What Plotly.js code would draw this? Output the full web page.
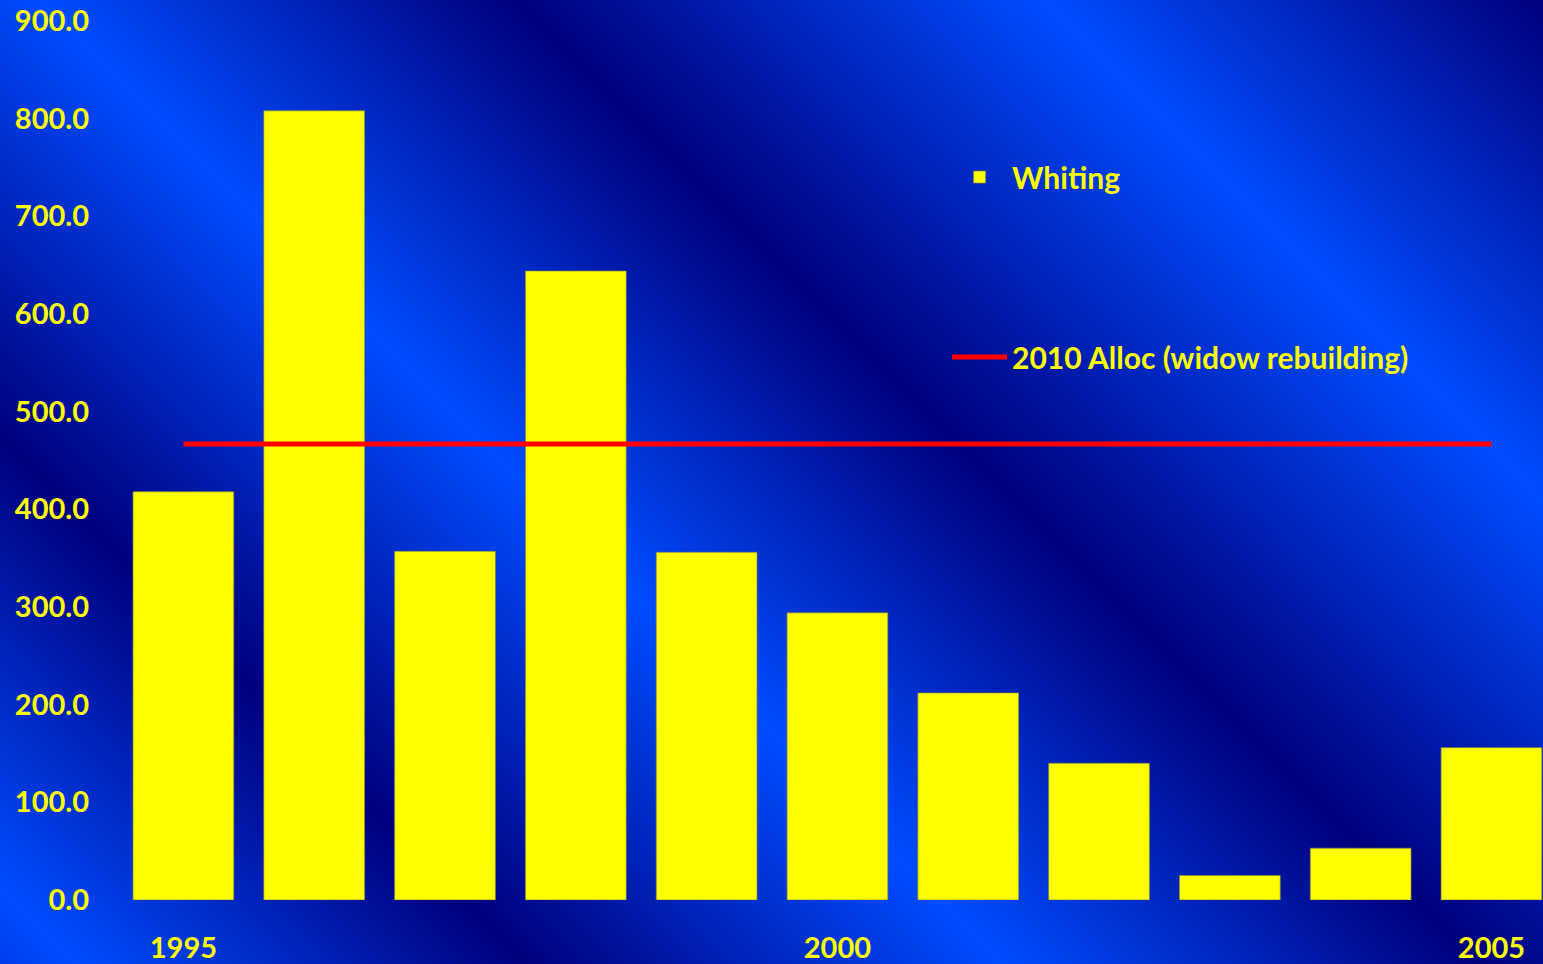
<!DOCTYPE html>
<html>
<head>
<meta charset="utf-8">
<script src="https://cdn.plot.ly/plotly-3.0.1.min.js"></script>
<style>
  html, body { margin: 0; padding: 0; }
  #chart {
    width: 1543px; height: 964px;
    background: linear-gradient(45deg,
      rgb(0,60,235) 0%,
      rgb(0,76,255) 3%,
      rgb(0,0,125) 21%,
      rgb(0,76,255) 40%,
      rgb(0,0,125) 59%,
      rgb(0,76,255) 80%,
      rgb(0,0,125) 100%);
  }
</style>
</head>
<body>
<div id="chart"></div>
<script>
const years = [1995, 1996, 1997, 1998, 1999, 2000, 2001, 2002, 2003, 2004, 2005];
const whiting = [418, 808, 357, 644, 356, 294, 212, 140, 25, 53, 156];
const alloc2010 = [467, 467, 467, 467, 467, 467, 467, 467, 467, 467, 467];
const yTicks = [0, 100, 200, 300, 400, 500, 600, 700, 800, 900];
const xTicks = [1995, 2000, 2005];

const fontFamily = 'Lato, "Open Sans", "DejaVu Sans", sans-serif';
const yellow = '#FFFF00';

const traces = [
  {
    type: 'bar',
    name: 'Whiting',
    x: years,
    y: whiting,
    width: 0.77,
    marker: { color: yellow, line: { color: 'rgba(140,140,60,0.7)', width: 1 } },
    legend: 'legend',
    hoverinfo: 'x+y'
  },
  {
    type: 'scatter',
    mode: 'lines',
    name: '2010 Alloc (widow rebuilding)',
    x: years,
    y: alloc2010,
    line: { color: '#FF0000', width: 5 },
    legend: 'legend2',
    hoverinfo: 'x+y'
  }
];

const legendFont = { family: fontFamily, size: 30, color: yellow, weight: 700 };

const layout = {
  width: 1543,
  height: 964,
  margin: { l: 118, r: 0, t: 21, b: 64 },
  paper_bgcolor: 'rgba(0,0,0,0)',
  plot_bgcolor: 'rgba(0,0,0,0)',
  showlegend: true,
  xaxis: {
    range: [1994.5, 2005.394],
    tickvals: xTicks,
    ticktext: xTicks.map(String),
    showgrid: false,
    zeroline: false,
    showline: false,
    ticks: '',
    ticklabelstandoff: 28,
    tickfont: { family: fontFamily, size: 29, color: yellow, weight: 700 }
  },
  yaxis: {
    range: [0, 900],
    tickvals: yTicks,
    tickformat: '.1f',
    showgrid: false,
    zeroline: false,
    showline: false,
    ticks: '',
    ticklabelstandoff: 28,
    tickfont: { family: fontFamily, size: 29, color: yellow, weight: 700 }
  },
  legend: {
    x: 0.5818, xanchor: 'left',
    y: 0.8225, yanchor: 'middle',
    bgcolor: 'rgba(0,0,0,0)',
    borderwidth: 0,
    itemwidth: 55,
    font: legendFont
  },
  legend2: {
    x: 0.5818, xanchor: 'left',
    y: 0.6177, yanchor: 'middle',
    bgcolor: 'rgba(0,0,0,0)',
    borderwidth: 0,
    itemwidth: 55,
    font: legendFont
  }
};

Plotly.newPlot('chart', traces, layout, { displayModeBar: false });
</script>
</body>
</html>
